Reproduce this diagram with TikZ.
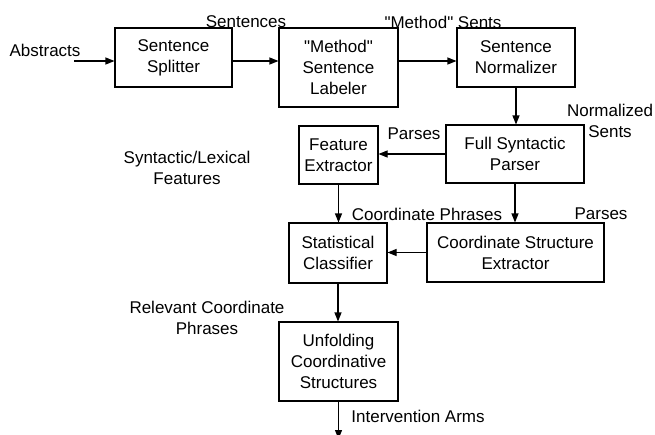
\documentclass[tikz,border=0pt]{standalone}
\usepackage{fontspec}
\setmainfont{Liberation Sans}[Ligatures=TeXOff]
\usetikzlibrary{arrows.meta}
\tikzset{
  box/.style={draw,line width=1.1pt,align=center,inner sep=0pt,font=\fontsize{17}{21}\selectfont},
  lbl/.style={align=center,inner sep=0pt,font=\fontsize{17}{21}\selectfont},
  flow/.style={line width=1.1pt,-{Triangle[length=9pt,width=7pt]}},
}
\begin{document}
\begin{tikzpicture}[x=1pt,y=-1pt]
        \useasboundingbox (0,0) rectangle (655,434);
        %方框;
            \node[box,minimum width=117pt,minimum height=59pt] (split) at (173.5,57.5) {Sentence\\Splitter};
            \node[box,minimum width=119pt,minimum height=79pt] (label) at (338.5,67.5) {"Method"\\Sentence\\Labeler};
            \node[box,minimum width=118pt,minimum height=59pt] (norm) at (516,57.5) {Sentence\\Normalizer};
            \node[box,minimum width=138pt,minimum height=58pt] (parser) at (515,154) {Full Syntactic\\Parser};
            \node[box,minimum width=79pt,minimum height=58pt] (feat) at (338.5,155) {Feature\\Extractor};
            \node[box,minimum width=98pt,minimum height=60pt] (clf) at (338,253) {Statistical\\Classifier};
            \node[box,minimum width=177pt,minimum height=59pt] (cse) at (515.5,252.5) {Coordinate Structure\\Extractor};
            \node[box,minimum width=119pt,minimum height=79pt] (unfold) at (338.5,361.5) {Unfolding\\Coordinative\\Structures};
        %标注
            \node[lbl] (abstracts) at (45,50) {Abstracts};
            \node[lbl] (sentences) at (246,22) {Sentences};
            \node[lbl] (methodsents) at (443,22) {"Method" Sents};
            \node[lbl] (normsents) at (610,121) {Normalized\\Sents};
            \node[lbl] (parses1) at (414,134) {Parses};
            \node[lbl] (synlex) at (187,168) {Syntactic/Lexical\\Features};
            \node[lbl] (coordphr) at (427,214) {Coordinate Phrases};
            \node[lbl] (parses2) at (601,214) {Parses};
            \node[lbl] (relevant) at (207,318) {Relevant Coordinate\\Phrases};
            \node[lbl] (arms) at (418,416) {Intervention Arms};
        %箭头
            \coordinate (in) at (74,61);
            \coordinate (out) at (338.5,439);
            \draw[flow] (in) -- (in -| split.west);
            \draw[flow] (in -| split.east) -- (in -| label.west);
            \draw[flow] (in -| label.east) -- (in -| norm.west);
            \draw[flow] (norm.south) -- (norm.south |- parser.north);
            \draw[flow] (parser.west) -- (parser.west -| feat.east);
            \draw[flow] (feat.south) -- (feat.south |- clf.north);
            \draw[flow] (parser.south) -- (parser.south |- cse.north);
            \draw[flow] (cse.west) -- (cse.west -| clf.east);
            \draw[flow] (clf.south) -- (clf.south |- unfold.north);
            \draw[flow] (unfold.south) -- (unfold.south |- out);
    \end{tikzpicture}
\end{document}
